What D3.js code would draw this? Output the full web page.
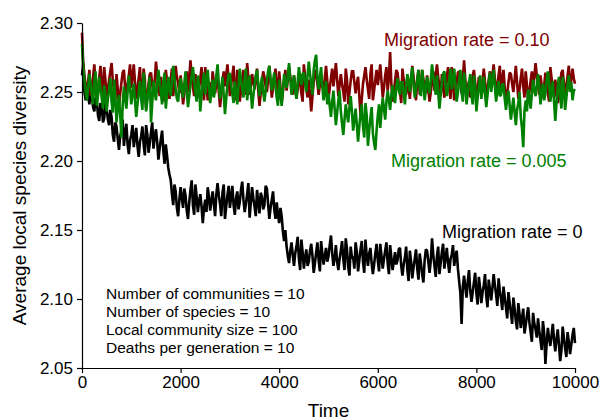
<!DOCTYPE html>
<html>
<head>
<meta charset="utf-8">
<script src="https://cdn.jsdelivr.net/npm/d3@7/dist/d3.min.js"></script>
<style>
  body { margin: 0; background: #fff; }
  svg { font-family: "Liberation Sans", Arial, sans-serif; }
  .axis path, .axis line { stroke: #000; stroke-width: 1.2; }
  .axis text { font-size: 17px; fill: #000; }
</style>
</head>
<body>
<svg width="602" height="420"></svg>
<script>
// time steps, every 25 generations
var timeSteps = d3.range(0, 10001, 25);

var xTicks = [0, 2000, 4000, 6000, 8000, 10000];
var yTicks = [2.05, 2.10, 2.15, 2.20, 2.25, 2.30];

// Migration rate = 0
var diversityM0 = [
  2.262, 2.271, 2.250, 2.244, 2.255, 2.247, 2.241, 2.252, 2.248, 2.239, 2.236, 2.246, 2.244, 2.233, 2.229, 2.242, 2.240, 2.228, 2.231, 2.243,
  2.238, 2.230, 2.226, 2.237, 2.232, 2.219, 2.214, 2.228, 2.225, 2.216, 2.208, 2.218, 2.222, 2.230, 2.211, 2.220, 2.227, 2.212, 2.205, 2.215,
  2.219, 2.226, 2.210, 2.217, 2.224, 2.211, 2.203, 2.214, 2.218, 2.225, 2.212, 2.204, 2.226, 2.219, 2.206, 2.213, 2.221, 2.228, 2.209, 2.217,
  2.223, 2.214, 2.201, 2.209, 2.216, 2.222, 2.207, 2.198, 2.212, 2.204, 2.195, 2.190, 2.186, 2.176, 2.168, 2.183, 2.178, 2.166, 2.160, 2.172,
  2.181, 2.173, 2.166, 2.180, 2.175, 2.164, 2.158, 2.170, 2.179, 2.186, 2.168, 2.161, 2.183, 2.174, 2.163, 2.171, 2.176, 2.167, 2.155, 2.166,
  2.172, 2.163, 2.181, 2.174, 2.164, 2.171, 2.178, 2.169, 2.160, 2.176, 2.184, 2.175, 2.169, 2.160, 2.177, 2.183, 2.158, 2.167, 2.175, 2.182,
  2.166, 2.174, 2.182, 2.168, 2.161, 2.173, 2.178, 2.165, 2.170, 2.179, 2.185, 2.172, 2.163, 2.169, 2.176, 2.184, 2.159, 2.170, 2.181, 2.173,
  2.167, 2.160, 2.179, 2.171, 2.162, 2.177, 2.174, 2.165, 2.168, 2.182, 2.180, 2.169, 2.158, 2.166, 2.172, 2.178, 2.165, 2.158, 2.170, 2.161,
  2.155, 2.166, 2.160, 2.149, 2.142, 2.150, 2.138, 2.131, 2.126, 2.135, 2.141, 2.132, 2.124, 2.133, 2.138, 2.145, 2.129, 2.121, 2.143, 2.134,
  2.122, 2.130, 2.136, 2.124, 2.127, 2.135, 2.140, 2.131, 2.119, 2.126, 2.134, 2.141, 2.128, 2.120, 2.142, 2.133, 2.125, 2.131, 2.137, 2.127,
  2.131, 2.139, 2.146, 2.133, 2.124, 2.130, 2.139, 2.127, 2.121, 2.129, 2.135, 2.142, 2.129, 2.121, 2.144, 2.136, 2.123, 2.117, 2.138, 2.130,
  2.130, 2.122, 2.141, 2.134, 2.120, 2.128, 2.136, 2.142, 2.127, 2.119, 2.143, 2.131, 2.124, 2.133, 2.137, 2.126, 2.118, 2.125, 2.133, 2.140,
  2.128, 2.120, 2.140, 2.131, 2.122, 2.129, 2.135, 2.141, 2.126, 2.118, 2.139, 2.130, 2.121, 2.127, 2.134, 2.125, 2.128, 2.136, 2.137, 2.124,
  2.117, 2.125, 2.130, 2.138, 2.121, 2.113, 2.135, 2.127, 2.115, 2.123, 2.129, 2.136, 2.122, 2.114, 2.133, 2.126, 2.118, 2.112, 2.128, 2.136,
  2.135, 2.127, 2.119, 2.128, 2.144, 2.132, 2.124, 2.116, 2.131, 2.138, 2.118, 2.126, 2.134, 2.140, 2.122, 2.130, 2.137, 2.126, 2.119, 2.129,
  2.132, 2.139, 2.124, 2.131, 2.135, 2.122, 2.113, 2.104, 2.082, 2.109, 2.117, 2.108, 2.101, 2.113, 2.121, 2.106, 2.098, 2.105, 2.112, 2.119,
  2.104, 2.096, 2.116, 2.108, 2.097, 2.105, 2.110, 2.118, 2.102, 2.094, 2.114, 2.107, 2.099, 2.108, 2.118, 2.110, 2.103, 2.095, 2.115, 2.106,
  2.100, 2.092, 2.109, 2.101, 2.094, 2.086, 2.105, 2.097, 2.090, 2.082, 2.101, 2.093, 2.084, 2.078, 2.097, 2.089, 2.079, 2.086, 2.093, 2.075,
  2.081, 2.088, 2.094, 2.083, 2.076, 2.069, 2.090, 2.082, 2.078, 2.072, 2.086, 2.077, 2.070, 2.063, 2.084, 2.075, 2.053, 2.068, 2.079, 2.071,
  2.066, 2.074, 2.082, 2.070, 2.062, 2.071, 2.078, 2.067, 2.055, 2.063, 2.080, 2.072, 2.064, 2.058, 2.076, 2.069, 2.060, 2.067, 2.074, 2.079,
  2.068
];

// Migration rate = 0.10
var diversityM010 = [
  2.293, 2.271, 2.262, 2.254, 2.249, 2.258, 2.266, 2.247, 2.252, 2.261, 2.270, 2.255, 2.246, 2.253, 2.261, 2.269, 2.255, 2.248, 2.268, 2.259,
  2.244, 2.252, 2.259, 2.265, 2.271, 2.258, 2.250, 2.244, 2.263, 2.252, 2.240, 2.249, 2.257, 2.264, 2.266, 2.253, 2.248, 2.256, 2.262, 2.270,
  2.253, 2.261, 2.270, 2.257, 2.245, 2.252, 2.260, 2.268, 2.251, 2.243, 2.267, 2.259, 2.238, 2.247, 2.256, 2.263, 2.264, 2.255, 2.249, 2.258,
  2.272, 2.263, 2.255, 2.247, 2.261, 2.252, 2.243, 2.255, 2.266, 2.258, 2.252, 2.245, 2.259, 2.267, 2.247, 2.256, 2.269, 2.261, 2.256, 2.249,
  2.262, 2.253, 2.241, 2.249, 2.258, 2.265, 2.250, 2.260, 2.273, 2.262, 2.254, 2.247, 2.263, 2.255, 2.246, 2.253, 2.260, 2.268, 2.252, 2.244,
  2.268, 2.256, 2.244, 2.251, 2.257, 2.249, 2.265, 2.257, 2.249, 2.256, 2.261, 2.250, 2.239, 2.248, 2.258, 2.265, 2.254, 2.262, 2.270, 2.259,
  2.247, 2.255, 2.262, 2.269, 2.251, 2.244, 2.266, 2.258, 2.243, 2.251, 2.259, 2.266, 2.255, 2.248, 2.271, 2.260, 2.248, 2.255, 2.263, 2.257,
  2.252, 2.260, 2.267, 2.251, 2.240, 2.249, 2.257, 2.265, 2.261, 2.254, 2.250, 2.259, 2.269, 2.257, 2.246, 2.253, 2.260, 2.267, 2.254, 2.247,
  2.265, 2.254, 2.242, 2.250, 2.258, 2.266, 2.251, 2.259, 2.268, 2.261, 2.255, 2.248, 2.262, 2.255, 2.245, 2.252, 2.264, 2.257, 2.249, 2.243,
  2.270, 2.261, 2.253, 2.246, 2.259, 2.248, 2.236, 2.247, 2.257, 2.263, 2.266, 2.256, 2.248, 2.255, 2.262, 2.254, 2.252, 2.260, 2.269, 2.258,
  2.245, 2.253, 2.260, 2.267, 2.254, 2.262, 2.271, 2.259, 2.247, 2.255, 2.263, 2.256, 2.250, 2.243, 2.267, 2.259, 2.241, 2.250, 2.258, 2.265,
  2.265, 2.257, 2.249, 2.256, 2.261, 2.247, 2.233, 2.245, 2.256, 2.262, 2.268, 2.259, 2.252, 2.245, 2.263, 2.270, 2.244, 2.251, 2.259, 2.266,
  2.255, 2.262, 2.270, 2.258, 2.246, 2.253, 2.262, 2.268, 2.251, 2.260, 2.279, 2.256, 2.243, 2.250, 2.258, 2.266, 2.264, 2.256, 2.250, 2.242,
  2.267, 2.259, 2.254, 2.248, 2.261, 2.253, 2.245, 2.257, 2.269, 2.261, 2.252, 2.244, 2.259, 2.266, 2.248, 2.256, 2.266, 2.259, 2.256, 2.249,
  2.262, 2.252, 2.243, 2.250, 2.258, 2.265, 2.251, 2.262, 2.270, 2.261, 2.254, 2.247, 2.263, 2.255, 2.246, 2.253, 2.261, 2.268, 2.252, 2.245,
  2.268, 2.256, 2.244, 2.251, 2.257, 2.264, 2.265, 2.256, 2.249, 2.260, 2.273, 2.259, 2.247, 2.253, 2.258, 2.246, 2.254, 2.262, 2.266, 2.257,
  2.242, 2.251, 2.261, 2.255, 2.250, 2.258, 2.267, 2.257, 2.246, 2.253, 2.259, 2.265, 2.255, 2.262, 2.270, 2.259, 2.248, 2.255, 2.262, 2.269,
  2.252, 2.259, 2.266, 2.253, 2.241, 2.249, 2.257, 2.264, 2.263, 2.256, 2.250, 2.259, 2.269, 2.257, 2.245, 2.252, 2.260, 2.267, 2.254, 2.246,
  2.265, 2.255, 2.243, 2.250, 2.258, 2.265, 2.251, 2.261, 2.271, 2.262, 2.255, 2.248, 2.262, 2.254, 2.246, 2.255, 2.264, 2.257, 2.249, 2.243,
  2.268, 2.260, 2.253, 2.246, 2.259, 2.250, 2.242, 2.250, 2.257, 2.264, 2.266, 2.256, 2.248, 2.255, 2.262, 2.269, 2.252, 2.259, 2.267, 2.260,
  2.256
];

// Migration rate = 0.005
var diversityM0005 = [
  2.285, 2.268, 2.258, 2.250, 2.244, 2.254, 2.263, 2.256, 2.249, 2.241, 2.257, 2.265, 2.240, 2.248, 2.261, 2.252, 2.246, 2.238, 2.255, 2.247,
  2.236, 2.245, 2.252, 2.260, 2.243, 2.235, 2.259, 2.247, 2.228, 2.239, 2.248, 2.233, 2.217, 2.240, 2.254, 2.246, 2.238, 2.250, 2.262, 2.253,
  2.241, 2.249, 2.256, 2.244, 2.232, 2.241, 2.250, 2.258, 2.245, 2.237, 2.264, 2.252, 2.236, 2.244, 2.253, 2.261, 2.228, 2.242, 2.258, 2.250,
  2.244, 2.256, 2.266, 2.257, 2.249, 2.241, 2.257, 2.264, 2.238, 2.249, 2.261, 2.253, 2.247, 2.258, 2.269, 2.260, 2.252, 2.245, 2.243, 2.254,
  2.260, 2.252, 2.246, 2.256, 2.265, 2.250, 2.239, 2.247, 2.255, 2.261, 2.268, 2.258, 2.250, 2.243, 2.262, 2.254, 2.236, 2.248, 2.257, 2.264,
  2.248, 2.257, 2.266, 2.254, 2.242, 2.250, 2.259, 2.246, 2.253, 2.262, 2.270, 2.256, 2.245, 2.252, 2.261, 2.248, 2.234, 2.245, 2.256, 2.263,
  2.263, 2.255, 2.249, 2.242, 2.258, 2.250, 2.241, 2.254, 2.267, 2.259, 2.252, 2.246, 2.260, 2.267, 2.244, 2.253, 2.262, 2.250, 2.238, 2.247,
  2.255, 2.262, 2.266, 2.256, 2.247, 2.254, 2.261, 2.250, 2.243, 2.251, 2.258, 2.265, 2.269, 2.259, 2.251, 2.258, 2.264, 2.254, 2.246, 2.240,
  2.259, 2.249, 2.240, 2.252, 2.263, 2.257, 2.253, 2.262, 2.271, 2.259, 2.248, 2.255, 2.262, 2.251, 2.245, 2.257, 2.268, 2.261, 2.255, 2.263,
  2.264, 2.257, 2.250, 2.262, 2.272, 2.263, 2.256, 2.248, 2.266, 2.273, 2.277, 2.260, 2.252, 2.261, 2.268, 2.254, 2.244, 2.250, 2.258, 2.241,
  2.249, 2.240, 2.232, 2.243, 2.251, 2.238, 2.226, 2.235, 2.244, 2.251, 2.236, 2.227, 2.219, 2.230, 2.241, 2.234, 2.228, 2.239, 2.247, 2.236,
  2.222, 2.230, 2.238, 2.226, 2.214, 2.225, 2.234, 2.241, 2.225, 2.217, 2.242, 2.233, 2.211, 2.222, 2.231, 2.239, 2.220, 2.213, 2.208, 2.222,
  2.233, 2.241, 2.224, 2.236, 2.246, 2.238, 2.230, 2.243, 2.251, 2.244, 2.237, 2.248, 2.255, 2.247, 2.242, 2.253, 2.260, 2.252, 2.248, 2.257,
  2.257, 2.249, 2.241, 2.254, 2.263, 2.257, 2.250, 2.261, 2.268, 2.255, 2.246, 2.252, 2.259, 2.266, 2.253, 2.247, 2.266, 2.257, 2.244, 2.252,
  2.261, 2.254, 2.249, 2.259, 2.270, 2.262, 2.255, 2.248, 2.262, 2.250, 2.238, 2.248, 2.257, 2.263, 2.265, 2.255, 2.247, 2.253, 2.260, 2.267,
  2.252, 2.259, 2.267, 2.255, 2.243, 2.250, 2.258, 2.266, 2.250, 2.243, 2.264, 2.256, 2.241, 2.249, 2.256, 2.263, 2.248, 2.241, 2.262, 2.254,
  2.236, 2.246, 2.254, 2.262, 2.245, 2.252, 2.261, 2.249, 2.239, 2.248, 2.257, 2.264, 2.250, 2.258, 2.266, 2.254, 2.243, 2.251, 2.258, 2.247,
  2.248, 2.256, 2.255, 2.245, 2.237, 2.246, 2.251, 2.240, 2.230, 2.238, 2.246, 2.235, 2.226, 2.237, 2.242, 2.250, 2.232, 2.224, 2.210, 2.236,
  2.244, 2.236, 2.252, 2.246, 2.238, 2.249, 2.259, 2.251, 2.247, 2.255, 2.263, 2.254, 2.241, 2.249, 2.256, 2.244, 2.249, 2.258, 2.265, 2.256,
  2.243, 2.251, 2.258, 2.243, 2.229, 2.242, 2.254, 2.261, 2.246, 2.238, 2.261, 2.252, 2.237, 2.246, 2.255, 2.262, 2.250, 2.257, 2.244, 2.251,
  2.252
];

var seriesNames = ["Migration rate = 0", "Migration rate = 0.10", "Migration rate = 0.005"];
var seriesColors = ["#000000", "#800000", "#008000"];
var paramLines = [
  "Number of communities = 10",
  "Number of species = 10",
  "Local community size = 100",
  "Deaths per generation = 10"
];

function draw() {
  var svg = d3.select("svg"),
    margin = { top: 23, right: 27, bottom: 52, left: 82 },
    width = +svg.attr("width") - margin.left - margin.right,
    height = +svg.attr("height") - margin.top - margin.bottom;

  var xScale = d3.scaleLinear().domain([0, 10000]).range([0, width]),
    yScale = d3.scaleLinear().domain([2.05, 2.30]).range([height, 0]);

  var g = svg.append("g")
    .attr("transform", "translate(" + margin.left + "," + margin.top + ")");

  var line = d3.line()
    .x(function (d, i) { return xScale(timeSteps[i]); })
    .y(function (d) { return yScale(d); });

  var allSeries = [diversityM0, diversityM010, diversityM0005];
  allSeries.forEach(function (values, k) {
    g.append("path")
      .datum(values)
      .attr("fill", "none")
      .attr("stroke", seriesColors[k])
      .attr("stroke-width", 2.6)
      .attr("stroke-linejoin", "miter")
      .attr("stroke-miterlimit", 2)
      .attr("d", line);
  });

  g.append("g")
    .attr("class", "axis axis--x")
    .attr("transform", "translate(0," + height + ")")
    .call(d3.axisBottom(xScale).tickValues(xTicks).tickFormat(d3.format("d")).tickSize(5).tickSizeOuter(0).tickPadding(3));

  g.append("g")
    .attr("class", "axis axis--y")
    .call(d3.axisLeft(yScale).tickValues(yTicks).tickFormat(d3.format(".2f")).tickSize(5).tickSizeOuter(0).tickPadding(4));

  g.selectAll(".axis text").attr("font-family", null).attr("font-size", null);

  svg.append("text")
    .attr("x", margin.left + width / 2)
    .attr("y", 417)
    .attr("text-anchor", "middle")
    .attr("font-size", 19)
    .text("Time");

  svg.append("text")
    .attr("transform", "translate(26," + (margin.top + height / 2) + ") rotate(-90)")
    .attr("text-anchor", "middle")
    .attr("font-size", 19)
    .text("Average local species diversity");

  // series labels
  var labelPos = [[442, 238], [384, 46], [391, 167]];
  seriesNames.forEach(function (name, k) {
    svg.append("text")
      .attr("x", labelPos[k][0])
      .attr("y", labelPos[k][1])
      .attr("fill", seriesColors[k])
      .attr("font-size", 18)
      .text(name);
  });

  svg.append("g").selectAll("text")
    .data(paramLines)
    .enter().append("text")
    .attr("x", 106)
    .attr("y", function (d, i) { return 299 + i * 18; })
    .attr("font-size", 15.5)
    .text(function (d) { return d; });
}

draw();
</script>
</body>
</html>
